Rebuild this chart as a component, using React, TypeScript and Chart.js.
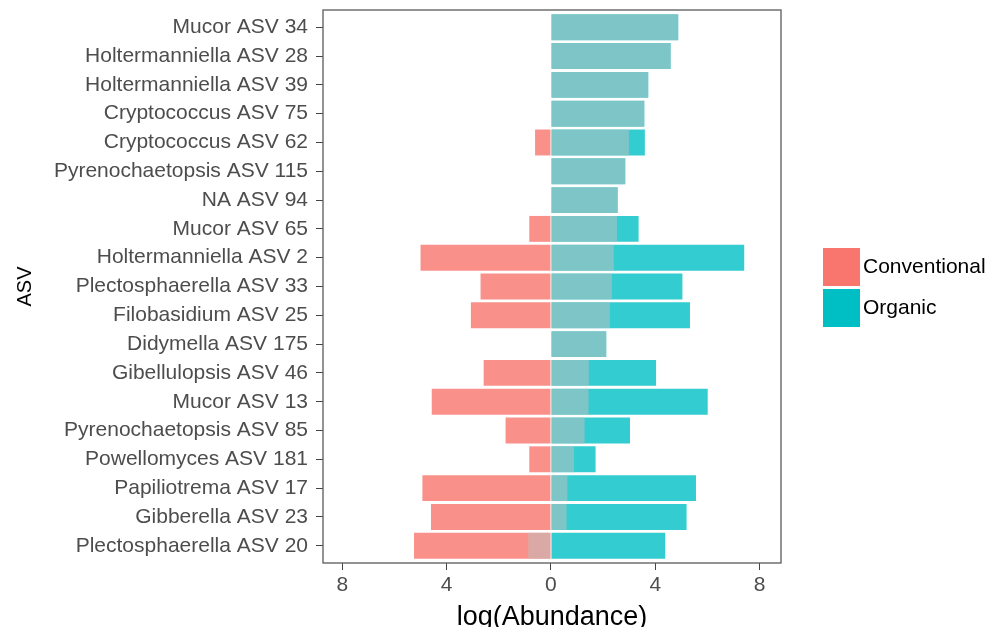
import React, { useEffect, useRef } from "react";
import { Chart, registerables } from "chart.js";

Chart.register(...registerables);

// ---- data ----
const asvLabels = [
  "Mucor ASV 34",
  "Holtermanniella ASV 28",
  "Holtermanniella ASV 39",
  "Cryptococcus ASV 75",
  "Cryptococcus ASV 62",
  "Pyrenochaetopsis ASV 115",
  "NA ASV 94",
  "Mucor ASV 65",
  "Holtermanniella ASV 2",
  "Plectosphaerella ASV 33",
  "Filobasidium ASV 25",
  "Didymella ASV 175",
  "Gibellulopsis ASV 46",
  "Mucor ASV 13",
  "Pyrenochaetopsis ASV 85",
  "Powellomyces ASV 181",
  "Papiliotrema ASV 17",
  "Gibberella ASV 23",
  "Plectosphaerella ASV 20",
];
// log(Abundance) in conventional samples (plotted to the left)
const conventional = [0, 0, 0, 0, 0.61, 0, 0, 0.83, 5.0, 2.7, 3.07, 0, 2.58, 4.57, 1.74, 0.83, 4.93, 4.6, 5.25];
// log(Abundance) in organic samples (plotted to the right)
const organic = [4.88, 4.59, 3.73, 3.58, 3.6, 2.85, 2.56, 3.36, 7.41, 5.04, 5.33, 2.12, 4.03, 6.01, 3.03, 1.71, 5.56, 5.2, 4.38];
const xTickValues = [-8, -4, 0, 4, 8];
const seriesNames = ["Conventional", "Organic"];
const seriesColors = ["#F8766D", "#00BFC4"];

const FONT = '"Liberation Sans", Arial, Helvetica, sans-serif';

const legendPlugin = {
  id: "ggLegend",
  afterDraw(chart: any) {
    const { ctx, chartArea } = chart;
    const keyW = 37;
    const keyH = 38;
    const gap = 3;
    const x0 = chartArea.right + 42;
    const total = seriesNames.length * keyH + (seriesNames.length - 1) * gap;
    let y = (chartArea.top + chartArea.bottom) / 2 - total / 2 + 1;
    ctx.save();
    ctx.font = `21px ${FONT}`;
    ctx.textBaseline = "middle";
    ctx.textAlign = "left";
    seriesNames.forEach((name, i) => {
      ctx.fillStyle = seriesColors[i];
      ctx.fillRect(x0, y, keyW, keyH);
      ctx.fillStyle = "#000000";
      ctx.fillText(name, x0 + keyW + 3, y + keyH / 2);
      y += keyH + gap;
    });
    ctx.restore();
  },
};

const panelBorderPlugin = {
  id: "panelBorder",
  afterDraw(chart: any) {
    const { ctx, chartArea } = chart;
    ctx.save();
    ctx.strokeStyle = "#5a5a5a";
    ctx.lineWidth = 1.3;
    ctx.strokeRect(chartArea.left, chartArea.top, chartArea.right - chartArea.left, chartArea.bottom - chartArea.top);
    ctx.restore();
  },
};

export default function App() {
  const canvasRef = useRef<HTMLCanvasElement | null>(null);

  useEffect(() => {
    if (!canvasRef.current) return;
    const convData = conventional.map((v, i) => ({ y: i, x: [-v, 0] }));
    const orgData = organic.map((v, i) => ({ y: i, x: [0, v] }));
    const diffData = organic.map((v, i) => ({ y: i, x: [0, v - conventional[i]] }));

    const tickFont = { family: FONT, size: 21 };
    const gridOpts = {
      display: true,
      drawOnChartArea: false,
      drawTicks: true,
      tickLength: 7,
      color: "#444444",
      lineWidth: 1,
      offset: false,
    };

    const chart = new Chart(canvasRef.current, {
      type: "bar",
      data: {
        datasets: [
          {
            label: seriesNames[0],
            data: convData as any,
            backgroundColor: "rgba(248,118,109,0.8)",
            borderWidth: 0,
            grouped: false,
            order: 1,
            barPercentage: 0.9,
            categoryPercentage: 1,
          },
          {
            label: seriesNames[1],
            data: orgData as any,
            backgroundColor: "rgba(0,191,196,0.8)",
            borderWidth: 0,
            grouped: false,
            order: 1,
            barPercentage: 0.9,
            categoryPercentage: 1,
          },
          {
            label: "Difference",
            data: diffData as any,
            backgroundColor: "rgba(190,190,190,0.53)",
            borderWidth: 0,
            grouped: false,
            order: 0,
            barPercentage: 0.9,
            categoryPercentage: 1,
          },
        ],
      },
      options: {
        animation: false,
        responsive: true,
        maintainAspectRatio: false,
        indexAxis: "y",
        layout: { padding: { top: 10, right: 213, bottom: 0, left: 0 } },
        plugins: {
          legend: { display: false },
          tooltip: { enabled: false },
        },
        scales: {
          x: {
            type: "linear",
            min: -8.74,
            max: 8.82,
            offset: false,
            afterBuildTicks: (s: any) => {
              s.ticks = xTickValues.map((v) => ({ value: v }));
            },
            afterFit: (s: any) => {
              s.height = 64;
              s.paddingLeft = 0;
              s.paddingRight = 0;
            },
            ticks: {
              callback: (v: any) => String(Math.abs(Number(v))),
              color: "#4D4D4D",
              font: tickFont,
              padding: 3,
              maxRotation: 0,
              autoSkip: false,
            },
            grid: gridOpts,
            border: { display: false },
            title: {
              display: true,
              text: "log(Abundance)",
              color: "#000000",
              font: { family: FONT, size: 27, lineHeight: 0.667 },
              padding: { top: 0, bottom: 0 },
            },
          },
          y: {
            type: "linear",
            min: -0.6,
            max: 18.6,
            reverse: true,
            offset: false,
            afterBuildTicks: (s: any) => {
              s.ticks = asvLabels.map((_, i) => ({ value: i }));
            },
            afterFit: (s: any) => {
              s.width = 323;
              s.paddingTop = 0;
              s.paddingBottom = 0;
            },
            ticks: {
              callback: (v: any) => asvLabels[Number(v)] ?? "",
              color: "#4D4D4D",
              font: tickFont,
              padding: 8,
              autoSkip: false,
            },
            grid: gridOpts,
            border: { display: false },
            title: {
              display: true,
              text: "ASV",
              color: "#000000",
              font: { family: FONT, size: 20 },
              padding: { top: 13.5, bottom: 0 },
            },
          },
        },
      } as any,
      plugins: [panelBorderPlugin, legendPlugin],
    });
    return () => chart.destroy();
  }, []);

  return (
    <div style={{ position: "fixed", left: 0, top: 0, width: 994, height: 627, background: "#ffffff" }}>
      <canvas ref={canvasRef} />
    </div>
  );
}
